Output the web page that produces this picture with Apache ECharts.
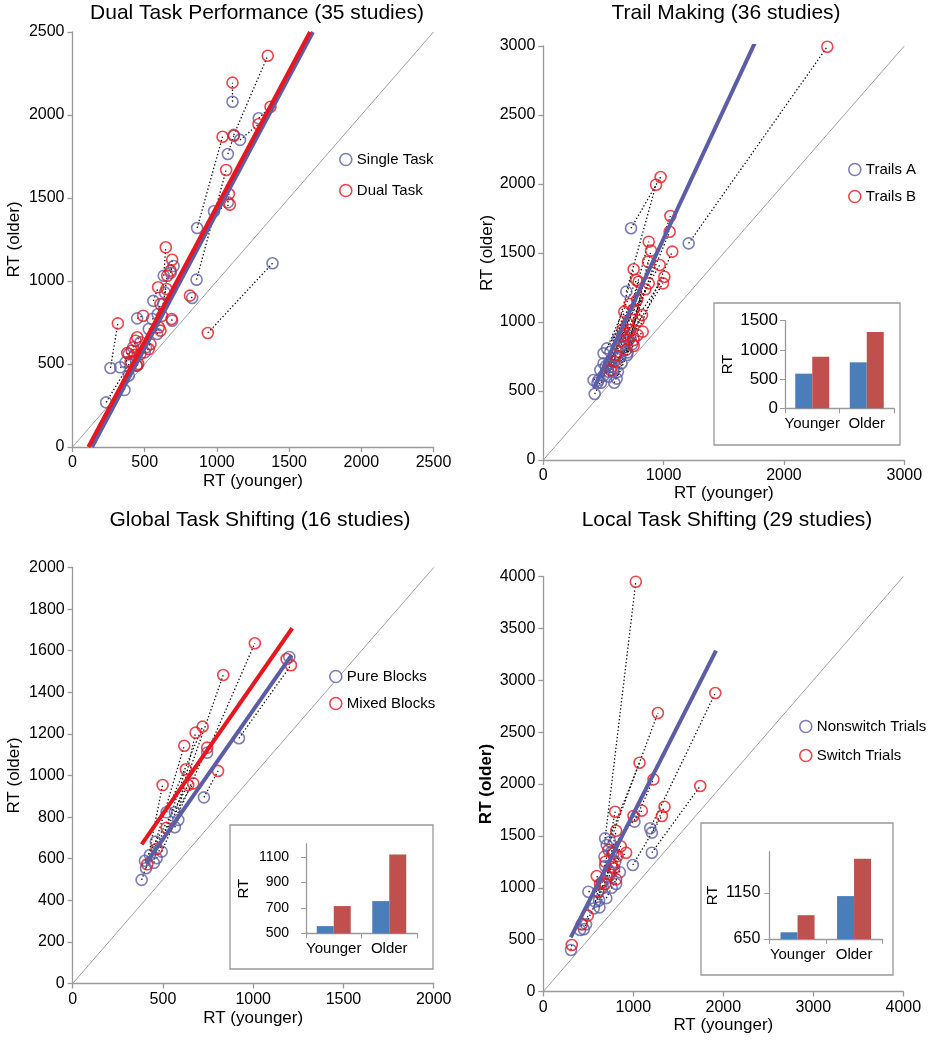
<!DOCTYPE html>
<html><head><meta charset="utf-8">
<script src="https://cdn.jsdelivr.net/npm/echarts@6/dist/echarts.min.js"></script>
<style>html,body{margin:0;padding:0;background:#fff}#c{width:932px;height:1050px}</style>
</head><body><div id="c"></div>
<script>
// ---------- DATA ----------
// Panel 1: Dual Task Performance — [RT younger, RT older], index-aligned pairs
const DUAL_SINGLE = [[1108,2080],[1117,1880],[1290,1980],[1160,1850],[1076,1765],[863,1319],[1076,1474],[859,1008],[980,1420],[632,1032],[680,1050],[700,1090],[628,861],[560,880],[640,930],[590,800],[690,761],[829,898],[1385,1107],[263,476],[448,775],[586,681],[528,711],[471,631],[420,600],[510,600],[500,570],[390,560],[367,510],[448,490],[390,430],[233,269],[360,343],[552,771],[330,480]];
const DUAL_DUAL = [[1108,2195],[1352,2357],[1371,2050],[1288,1944],[1117,1875],[1039,1869],[1083,1524],[1064,1669],[1090,1460],[646,1203],[690,1128],[679,1062],[656,1032],[593,962],[651,952],[609,861],[686,771],[813,912],[937,687],[314,745],[489,791],[598,721],[609,701],[448,661],[436,640],[540,620],[528,590],[410,580],[430,555],[455,500],[470,560],[402,514],[379,566],[620,790],[443,490]];
const DUAL_FIT_SINGLE = [[135,0],[1665,2500]];
const DUAL_FIT_DUAL = [[110,0],[1645,2500]];

// Panel 2: Trail Making
const TRAILS_A = [[1208,1570],[729,1679],[690,1220],[709,870],[668,857],[740,840],[640,821],[700,780],[696,761],[620,880],[680,900],[720,900],[557,785],[529,809],[600,740],[640,750],[650,700],[501,773],[560,720],[545,700],[580,650],[501,700],[620,640],[571,676],[540,640],[610,590],[520,680],[474,652],[500,610],[543,604],[460,580],[590,560],[480,560],[418,580],[450,560],[427,478]];
const TRAILS_B = [[2360,2995],[975,2051],[937,1995],[1056,1768],[1050,1654],[1072,1510],[876,1582],[895,1517],[870,1437],[967,1413],[1006,1328],[995,1280],[751,1382],[773,1304],[876,1280],[792,1292],[848,1237],[779,1159],[751,1092],[673,1075],[792,1010],[662,947],[723,942],[826,930],[784,906],[751,870],[751,826],[590,713],[700,990],[640,860],[690,800],[820,1050],[600,760],[560,650],[720,1130],[660,900]];
const TRAILS_FIT_A = [[420,520],[1776,3056]];

// Panel 3: Global Task Shifting
const PURE_BLOCKS = [[1200,1570],[921,1179],[745,1110],[566,823],[727,895],[520,823],[566,751],[460,682],[493,634],[465,602],[428,618],[400,590],[406,554],[585,786],[450,580],[382,498]];
const MIXED_BLOCKS = [[1185,1560],[1209,1530],[1009,1636],[834,1483],[805,1022],[720,1235],[681,1206],[618,1143],[745,1134],[627,1030],[668,962],[640,954],[498,954],[520,749],[465,647],[413,573]];
const GLOBAL_FIT_PURE = [[406,578],[1213,1579]];
const GLOBAL_FIT_MIXED = [[382,669],[1216,1708]];

// Panel 4: Local Task Shifting
const NONSWITCH = [[687,1476],[742,1444],[1188,1573],[1206,1338],[1206,1531],[995,1219],[1013,1637],[705,1412],[680,1300],[760,1350],[687,1210],[705,1107],[800,1250],[740,1150],[850,1150],[809,1036],[650,1050],[760,1000],[661,1010],[700,900],[620,880],[575,866],[501,962],[624,811],[560,800],[475,647],[408,593],[308,400],[450,600]];
const SWITCH = [[1028,3950],[1273,2684],[1911,2877],[1744,1981],[1347,1781],[1318,1692],[1224,2045],[1069,2205],[1095,1743],[1002,1692],[798,1733],[809,1550],[920,1338],[724,1364],[779,1332],[824,1306],[761,1203],[787,1187],[594,1113],[809,1081],[631,1036],[687,1036],[612,962],[740,1130],[690,1250],[494,731],[427,647],[316,448],[860,1400]];
const LOCAL_FIT_NONSWITCH = [[305,522],[1919,3285]];

// Insets (mean RT): categories and values
const INSET_CATS = ['Younger','Older'];
const TRAILS_INSET_A = [593,787];
const TRAILS_INSET_B = [884,1306];
const GLOBAL_INSET_PURE = [557,753];
const GLOBAL_INSET_MIXED = [714,1118];
const LOCAL_INSET_NONSWITCH = [723,1117];
const LOCAL_INSET_SWITCH = [909,1522];

// Axis ranges / ticks
const P1_AXIS = {max:2500, interval:500};
const P2_AXIS = {max:3000, interval:1000, ymax:3000, yinterval:500};
const P3_AXIS = {max:2000, interval:500, ymax:2000, yinterval:200};
const P4_AXIS = {max:4000, interval:1000, ymax:4000, yinterval:500};

// ---------- STYLE ----------
const BLUE = '#5b5ea6', RED = '#e8161e';
const BAR_BLUE = '#4a7ebb', BAR_RED = '#c0504d';
const AX = '#9a9a9a';
const FONT = 'Liberation Sans, Arial, sans-serif';
const plain = v => String(v);

const chart = echarts.init(document.getElementById('c'), null, {renderer:'canvas'});

function valAxis(gi, max, interval, name, gap, extra) {
  return Object.assign({
    type:'value', gridIndex:gi, min:0, max:max, interval:interval,
    name:name, nameLocation:'middle', nameGap:gap,
    nameTextStyle:{fontSize:17, color:'#000', fontFamily:FONT},
    axisLine:{show:true, lineStyle:{color:AX, width:1.3}},
    axisTick:{show:true, length:5, lineStyle:{color:AX, width:1.3}},
    axisLabel:{fontSize:16, color:'#000', fontFamily:FONT, margin:8, formatter:plain},
    splitLine:{show:false}
  }, extra||{});
}

const grids = [
  {left:72.5, top:32, width:361, height:415},
  {left:543.3, top:46, width:361, height:414},
  {left:72.7, top:567.5, width:361, height:416},
  {left:543.3, top:576.5, width:360, height:415},
  {left:785, top:320.7, width:109, height:87.6},
  {left:306, top:844, width:111, height:89.4},
  {left:769.3, top:851.7, width:113, height:87.3}
];

const xAxes = [
  valAxis(0, P1_AXIS.max, P1_AXIS.interval, 'RT (younger)', 26),
  valAxis(1, P2_AXIS.max, P2_AXIS.interval, 'RT (younger)', 24),
  valAxis(2, P3_AXIS.max, P3_AXIS.interval, 'RT (younger)', 26),
  valAxis(3, P4_AXIS.max, P4_AXIS.interval, 'RT (younger)', 24),
];
const yAxes = [
  valAxis(0, P1_AXIS.max, P1_AXIS.interval, 'RT (older)', 50),
  valAxis(1, P2_AXIS.ymax, P2_AXIS.yinterval, 'RT (older)', 46),
  valAxis(2, P3_AXIS.ymax, P3_AXIS.yinterval, 'RT (older)', 50),
  valAxis(3, P4_AXIS.ymax, P4_AXIS.yinterval, 'RT (older)', 48, {nameTextStyle:{fontSize:17, color:'#000', fontWeight:'bold', fontFamily:FONT}}),
];

function insetAxes(gi, min, max, interval, showMax, lblSize, lblMargin, nameGap) {
  xAxes.push({
    type:'category', gridIndex:gi, data:INSET_CATS,
    axisLine:{show:true, lineStyle:{color:AX, width:1.3}},
    axisTick:{show:true, length:5, lineStyle:{color:AX}},
    axisLabel:{fontSize:15, color:'#000', fontFamily:FONT, margin:8, interval:0}
  });
  yAxes.push({
    type:'value', gridIndex:gi, min:min, max:max, interval:interval,
    name:'RT', nameLocation:'middle', nameGap:nameGap, nameRotate:90,
    nameTextStyle:{fontSize:15, color:'#000', fontFamily:FONT},
    axisLine:{show:true, lineStyle:{color:AX, width:1.3}},
    axisTick:{show:true, length:5, lineStyle:{color:AX}},
    axisLabel:{fontSize:lblSize, color:'#000', fontFamily:FONT, margin:lblMargin, showMaxLabel:showMax, formatter:plain},
    splitLine:{show:false}
  });
}
insetAxes(4, 0, 1500, 500, true, 17, 7, 50);
insetAxes(5, 500, 1200, 200, false, 14, 17, 55);
insetAxes(6, 650, 1600, 500, false, 16, 9, 49);

const series = [];
function pairLines(a, b) { return a.map((p, i) => ({coords:[p, b[i]]})); }
function addPanel(idx, blueName, blue, redName, red, fits, max) {
  series.push({type:'line', xAxisIndex:idx, yAxisIndex:idx, data:[[0,0],[max,max]], symbol:'none', silent:true,
    lineStyle:{color:'#a0a0a0', width:1}, z:1});
  series.push({type:'lines', coordinateSystem:'cartesian2d', xAxisIndex:idx, yAxisIndex:idx, silent:true,
    data:pairLines(blue, red), lineStyle:{color:'#111', width:1.3, type:[1.4,2.2], opacity:1}, z:2});
  series.push({type:'scatter', name:blueName, xAxisIndex:idx, yAxisIndex:idx, data:blue, symbol:'circle', symbolSize:11, clip:false,
    itemStyle:{color:'rgba(255,255,255,0)', borderColor:BLUE, borderWidth:1.6}, z:3});
  series.push({type:'scatter', name:redName, xAxisIndex:idx, yAxisIndex:idx, data:red, symbol:'circle', symbolSize:11, clip:false,
    itemStyle:{color:'rgba(255,255,255,0)', borderColor:RED, borderWidth:1.6}, z:4});
  fits.forEach(f => series.push({type:'line', xAxisIndex:idx, yAxisIndex:idx, data:f.data, symbol:'none', silent:true,
    lineStyle:{color:f.color, width:4}, z:5}));
}
addPanel(0, 'Single Task', DUAL_SINGLE, 'Dual Task', DUAL_DUAL,
  [{data:DUAL_FIT_SINGLE, color:BLUE},{data:DUAL_FIT_DUAL, color:RED}], P1_AXIS.max);
addPanel(1, 'Trails A', TRAILS_A, 'Trails B', TRAILS_B,
  [{data:TRAILS_FIT_A, color:BLUE}], P2_AXIS.max);
addPanel(2, 'Pure Blocks', PURE_BLOCKS, 'Mixed Blocks', MIXED_BLOCKS,
  [{data:GLOBAL_FIT_PURE, color:BLUE},{data:GLOBAL_FIT_MIXED, color:RED}], P3_AXIS.max);
addPanel(3, 'Nonswitch Trials', NONSWITCH, 'Switch Trials', SWITCH,
  [{data:LOCAL_FIT_NONSWITCH, color:BLUE}], P4_AXIS.max);

function addInset(idx, a, b) {
  series.push({type:'bar', xAxisIndex:idx, yAxisIndex:idx, data:a, barWidth:17, barGap:'0%', itemStyle:{color:BAR_BLUE}, silent:true, z:6});
  series.push({type:'bar', xAxisIndex:idx, yAxisIndex:idx, data:b, barWidth:17, barGap:'0%', itemStyle:{color:BAR_RED}, silent:true, z:6});
}
addInset(4, TRAILS_INSET_A, TRAILS_INSET_B);
addInset(5, GLOBAL_INSET_PURE, GLOBAL_INSET_MIXED);
addInset(6, LOCAL_INSET_NONSWITCH, LOCAL_INSET_SWITCH);

function legend(left, top, names, gap) {
  return {orient:'vertical', left:left, top:top, itemWidth:12, itemHeight:12, itemGap:gap, selectedMode:false,
    icon:'circle', textStyle:{fontSize:15, color:'#000', fontFamily:FONT},
    data:names.map((n,i)=>({name:n, itemStyle:{color:'#fff', borderColor:i===0?BLUE:RED, borderWidth:1.6}}))};
}

function title(text, x, y) {
  return {text:text, left:x, top:y, textAlign:'center',
    textStyle:{fontSize:21, fontWeight:'normal', color:'#000', fontFamily:FONT}};
}

const frame = (x, y, w, h) => ({type:'rect', shape:{x:x, y:y, width:w, height:h}, style:{fill:'#fff', stroke:'#999', lineWidth:1.3}, z:0, silent:true});

chart.setOption({
  animation:false,
  backgroundColor:'#fff',
  title:[title('Dual Task Performance (35 studies)', 252, -2), title('Trail Making (36 studies)', 721, -2),
         title('Global Task Shifting (16 studies)', 255, 505), title('Local Task Shifting (29 studies)', 722, 505)],
  legend:[legend(334, 147, ['Single Task','Dual Task'], 16), legend(843, 157, ['Trails A','Trails B'], 12),
          legend(324, 664, ['Pure Blocks','Mixed Blocks'], 12), legend(794, 714, ['Nonswitch Trials','Switch Trials'], 14)],
  graphic:[frame(714, 303, 186, 142), frame(230, 825, 203, 144), frame(701, 823, 192, 152)],
  grid:grids, xAxis:xAxes, yAxis:yAxes, series:series
});
</script></body></html>
